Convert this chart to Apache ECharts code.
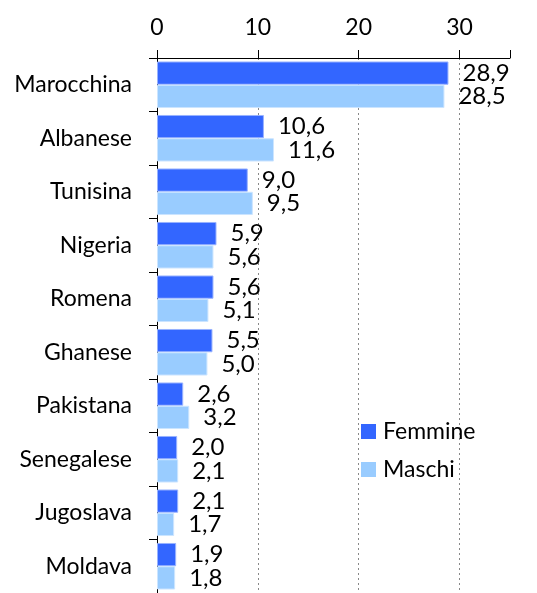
<!DOCTYPE html>
<html>
<head>
<meta charset="utf-8">
<script src="https://cdn.jsdelivr.net/npm/echarts@6/dist/echarts.min.js"></script>
<style>
html, body { margin: 0; padding: 0; background: #fff; }
#chart { width: 537px; height: 593px; }
</style>
</head>
<body>
<div id="chart"></div>
<script>
"use strict";
var categories = ['Marocchina', 'Albanese', 'Tunisina', 'Nigeria', 'Romena',
	'Ghanese', 'Pakistana', 'Senegalese', 'Jugoslava', 'Moldava'];
var femmine = [28.9, 10.6, 9.0, 5.9, 5.6, 5.5, 2.6, 2.0, 2.1, 1.9];
var maschi = [28.5, 11.6, 9.5, 5.6, 5.1, 5.0, 3.2, 2.1, 1.7, 1.8];
var xTicks = [0, 10, 20, 30];

var fontName = 'Lato';
var textColor = '#000';
var fontSize = 23;

function commaLabel(p) {
	return p.value.toFixed(1).replace('.', ',');
}

function barLabel() {
	return {
		show : true,
		position : 'right',
		distance : 14,
		formatter : commaLabel,
		color : textColor,
		fontFamily : fontName,
		fontSize : 24
	};
}

var chart = echarts.init(document.getElementById('chart'));

chart.setOption({
	animation : false,
	textStyle : {
		fontFamily : fontName
	},
	grid : {
		left : 157,
		right : 27,
		top : 58,
		height : 543,
		containLabel : false
	},
	legend : {
		orient : 'vertical',
		left : 361,
		top : 419,
		padding : 0,
		itemWidth : 15,
		itemHeight : 15,
		itemGap : 13,
		icon : 'rect',
		itemStyle : { borderWidth : 0 },
		textStyle : {
			fontSize : fontSize,
			lineHeight : 25,
			color : textColor,
			fontFamily : fontName,
			padding : [0, 0, 0, 2]
		},
		data : ['Femmine', 'Maschi']
	},
	xAxis : {
		type : 'value',
		position : 'top',
		min : 0,
		max : 35,
		interval : 10,
		axisLine : {
			show : true,
			lineStyle : { color : '#000', width : 1 }
		},
		axisTick : {
			show : true,
			length : 8,
			lineStyle : { color : '#000' }
		},
		axisLabel : {
			margin : 19,
			fontSize : fontSize,
			color : textColor,
			fontFamily : fontName,
			formatter : function(v) {
				return xTicks.indexOf(v) >= 0 ? String(v) : '';
			}
		},
		splitLine : {
			show : true,
			showMaxLine : false,
			lineStyle : { color : '#888', type : [2, 3], width : 1 }
		}
	},
	yAxis : {
		type : 'category',
		inverse : true,
		data : categories,
		axisLine : {
			show : true,
			lineStyle : { color : '#000', width : 1 }
		},
		axisTick : {
			show : true,
			length : 8,
			lineStyle : { color : '#000' }
		},
		axisLabel : {
			margin : 25,
			fontSize : fontSize,
			color : textColor,
			fontFamily : fontName
		}
	},
	series : [ {
		name : 'Femmine',
		type : 'bar',
		data : femmine,
		barGap : '0%',
		barCategoryGap : '13%',
		itemStyle : {
			color : '#3366ff',
			borderColor : '#99b3ff',
			borderWidth : 1
		},
		label : barLabel()
	}, {
		name : 'Maschi',
		type : 'bar',
		data : maschi,
		barGap : '0%',
		barCategoryGap : '13%',
		itemStyle : {
			color : '#99ccff',
			borderColor : '#cce5ff',
			borderWidth : 1
		},
		label : barLabel()
	} ]
});
</script>
</body>
</html>
